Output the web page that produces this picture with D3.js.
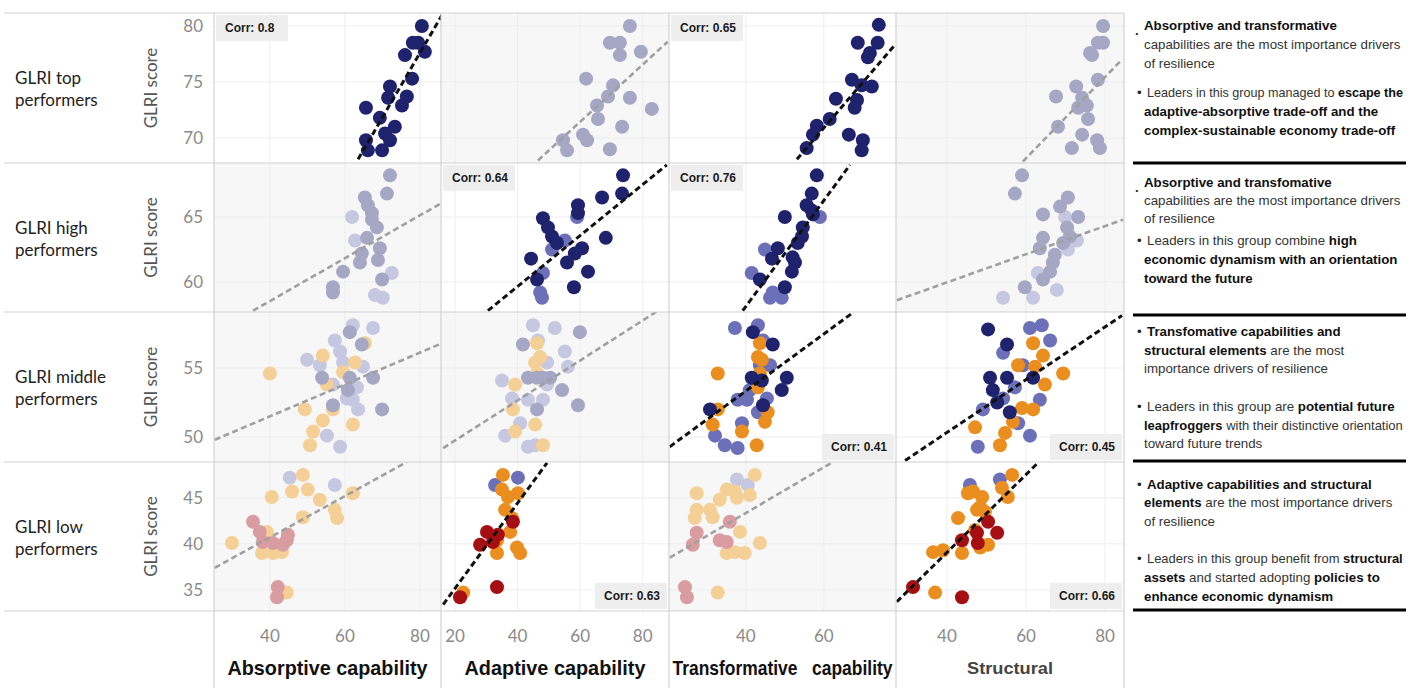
<!DOCTYPE html>
<html>
<head>
<meta charset="utf-8">
<script src="https://cdn.jsdelivr.net/npm/d3@7"></script>
<style>
  body { margin: 0; background: #fff; }
  svg { display: block; }
</style>
</head>
<body>
<svg id="chart"></svg>
<script>
// rows of the matrix and their columns
var rowNames = [["GLRI top", "performers"], ["GLRI high", "performers"], ["GLRI middle", "performers"], ["GLRI low", "performers"]];
var colNames = ["Absorptive capability", "Adaptive capability", "Transformative   capability", "Structural"];

var xDomains = [[25.1, 85.6], [15.5, 88.4], [20.3, 78.5], [27.1, 84.8]];
var yDomains = [[67.77, 81.16], [57.7, 69.15], [48.19, 59.06], [32.7, 48.9]];
var xTicks = [[40, 60, 80], [20, 40, 60, 80], [40, 60], [40, 60, 80]];
var yTicks = [[70, 75, 80], [60, 65], [50, 55], [35, 40, 45]];

// points: [x, GLRI score, group]  n = navy, m = periwinkle, o = orange, r = red
var topAbs = [[80.5,80.0,"n"],[78.1,78.5,"n"],[79.5,78.5,"n"],[81.3,77.7,"n"],[76,77.4,"n"],[77.9,75.3,"n"],[72,74.6,"n"],[71.5,73.6,"n"],[76.5,73.7,"n"],[75.2,72.9,"n"],[65.6,72.7,"n"],[69.3,71.8,"n"],[73.3,71.0,"n"],[70.7,70.4,"n"],[72,69.8,"n"],[65.6,69.8,"n"],[66.1,68.9,"n"],[69.9,68.9,"n"]];
var topAda = [[75.9,80,"n"],[69.5,78.5,"n"],[72.7,78.5,"n"],[72.7,77.4,"n"],[79.4,77.7,"n"],[61.9,75.3,"n"],[70.5,74.7,"n"],[68.9,73.7,"n"],[65.4,72.9,"n"],[75.9,73.6,"n"],[82.9,72.6,"n"],[65.7,71.7,"n"],[73.4,71,"n"],[60.9,70.3,"n"],[62.2,69.8,"n"],[54.5,69.8,"n"],[55.8,68.9,"n"],[69.5,69,"n"]];
var topTra = [[74.1,80.1,"n"],[68.7,78.5,"n"],[73.8,78.5,"n"],[71.8,77.6,"n"],[71.3,77.2,"n"],[67.2,75.2,"n"],[69.7,74.7,"n"],[72.3,74.6,"n"],[63.1,73.5,"n"],[68.5,73.4,"n"],[67.9,72.7,"n"],[61.5,71.7,"n"],[58.2,71.1,"n"],[57.2,70.3,"n"],[66.4,70.3,"n"],[70,69.8,"n"],[69.7,68.9,"n"],[55.6,69.1,"n"]];
var topStr = [[79.5,80,"n"],[78.2,78.5,"n"],[79.5,78.5,"n"],[76.2,77.6,"n"],[76.7,77.4,"n"],[78.2,75.2,"n"],[72.7,74.6,"n"],[67.6,73.7,"n"],[74.2,73.6,"n"],[75.4,72.9,"n"],[73.2,72.7,"n"],[75.7,71.7,"n"],[68.1,71,"n"],[74.2,70.3,"n"],[78,69.8,"n"],[78.7,69.1,"n"],[71.6,69.1,"n"]];

var highAbs = [[72,68.2,"n"],[71.2,66.8,"n"],[65.3,66.5,"n"],[66.1,65.9,"n"],[67.2,65.3,"n"],[67.2,64.8,"n"],[68.5,64.2,"n"],[65.9,63.4,"n"],[69.3,62.6,"n"],[68.8,61.7,"n"],[64.5,62.2,"n"],[64,61.5,"n"],[59.5,60.8,"n"],[69.9,60.2,"n"],[56.8,59.6,"n"],[56.8,59.2,"n"],
  [61.9,65,"m"],[62.7,63.2,"m"],[72.5,60.7,"m"],[68,59,"m"],[70.1,58.8,"m"]];
var highAda = [[73.7,68.2,"n"],[73.4,66.8,"n"],[67,66.5,"n"],[59.3,65.9,"n"],[59.3,65.3,"n"],[48.1,64.9,"n"],[49.7,64.2,"n"],[51,63.5,"n"],[52.6,63,"n"],[68.2,63.4,"n"],[60.6,62.6,"n"],[58.3,62.2,"n"],[44.3,61.8,"n"],[55.8,61.5,"n"],[62.5,60.8,"n"],[46.2,60.2,"n"],[58,59.6,"n"],
  [59,65,"m"],[55.1,63.2,"m"],[51,62.5,"m"],[48.1,60.7,"m"],[47.2,59.2,"m"],[47.8,58.8,"m"]];
var highTra = [[58.2,68.2,"n"],[56.9,66.8,"n"],[55.6,65.9,"n"],[56.9,65.5,"n"],[57.2,65.2,"n"],[50,65,"n"],[54.6,64.2,"n"],[54.4,63.5,"n"],[53.3,63,"n"],[48.2,62.6,"n"],[46.7,61.8,"n"],[52,61.9,"n"],[52.6,61.5,"n"],[51.8,60.8,"n"],[43.6,60.2,"n"],[50,59.6,"n"],
  [59,65,"m"],[44.9,62.5,"m"],[41.5,60.7,"m"],[46.9,59.2,"m"],[46.2,58.8,"m"],[49.2,58.8,"m"]];
var highStr = [[59,68.2,"n"],[57.2,66.8,"n"],[70.6,66.5,"n"],[68.6,65.8,"n"],[64.3,65.2,"n"],[73.2,65,"n"],[70.4,64.2,"n"],[71.1,63.5,"n"],[64.3,63.4,"n"],[63.5,62.6,"n"],[69.4,63,"n"],[67.3,62.1,"n"],[66.8,61.5,"n"],[66.1,60.8,"n"],[64.3,60.2,"n"],[59.7,59.6,"n"],
  [69.9,65,"m"],[72.9,63.2,"m"],[70.6,62.5,"m"],[63,60.7,"m"],[54.2,58.8,"m"],[61.8,58.8,"m"],[67.8,59.4,"m"]];

var midAbs = [[61.3,57.6,"n"],[64.5,56.7,"n"],[53.9,54.3,"n"],[61.3,54.3,"n"],[67.5,54.3,"n"],[60.8,53.4,"n"],[56.8,52.3,"n"],[69.9,52,"n"],
  [62.1,58.1,"m"],[67.5,57.9,"m"],[57.3,57,"m"],[58.7,56.2,"m"],[49.9,55.6,"m"],[53.3,55.2,"m"],[59.5,55.4,"m"],[64.8,55.1,"m"],[56.8,53.8,"m"],[63.2,53.6,"m"],[60.5,52.8,"m"],[62.1,52.7,"m"],[63.5,52,"m"],[55.2,50.1,"m"],[58.7,49.3,"m"],
  [65.3,56.8,"o"],[54.1,55.9,"o"],[62.7,55.4,"o"],[40,54.6,"o"],[59.5,54.7,"o"],[55.2,53.8,"o"],[49.3,52,"o"],[56.8,52,"o"],[54.1,51.2,"o"],[51.5,50.4,"o"],[62.1,50.9,"o"],[50.7,49.4,"o"]];
var midAda = [[59.9,57.6,"n"],[41.7,56.7,"n"],[43.3,54.3,"n"],[46.2,54.3,"n"],[48.1,54.3,"n"],[50.4,54.3,"n"],[54.2,53.4,"n"],[59.3,52.3,"n"],[46.2,52,"n"],
  [44.9,58.1,"m"],[51.9,57.9,"m"],[46.5,57,"m"],[55.1,56.2,"m"],[49.4,55.4,"m"],[56.1,55.1,"m"],[35,54.1,"m"],[49.4,53.8,"m"],[38.2,52.8,"m"],[43.3,52.7,"m"],[48.1,52.7,"m"],[40.8,51,"m"],[36,50.1,"m"],[43.3,49.3,"m"],[45.6,49.4,"m"],
  [46.2,56.8,"o"],[47.2,55.8,"o"],[45.6,55.4,"o"],[39.2,53.8,"o"],[46.2,54.6,"o"],[38.5,52,"o"],[45.6,50.9,"o"],[39.2,50.4,"o"],[48.1,49.4,"o"]];
var midTra = [[41.8,57.6,"n"],[46.9,56.7,"n"],[41.5,54.3,"n"],[44.1,54.1,"n"],[50.5,54.3,"n"],[49.2,53.4,"n"],[30.8,52,"n"],[44.4,52.3,"n"],
  [37.2,57.9,"m"],[43.1,58.1,"m"],[44.4,57,"m"],[43.6,55.2,"m"],[46.2,55.2,"m"],[41,53.4,"m"],[37.9,52.7,"m"],[40.3,52.7,"m"],[45.4,52.8,"m"],[43.1,51.8,"m"],[39,51,"m"],[32.1,50.1,"m"],[34.6,49.4,"m"],[37.9,49.2,"m"],
  [43.6,56.8,"o"],[43.1,55.8,"o"],[44.1,55.6,"o"],[32.8,54.6,"o"],[43.6,54.6,"o"],[43.1,53.6,"o"],[32.8,52,"o"],[45.6,51.8,"o"],[44.9,51.1,"o"],[31.5,50.9,"o"],[39,50.4,"o"],[42.8,49.4,"o"]];
var midStr = [[50.4,57.8,"n"],[55.2,56.7,"n"],[50.9,54.3,"n"],[55.2,54.3,"n"],[51.6,53.4,"n"],[61.8,54.3,"n"],[52.7,52.5,"n"],[55.9,51.8,"n"],
  [61,57.9,"m"],[64,58.1,"m"],[66.1,57,"m"],[54.2,56.1,"m"],[59.2,55.2,"m"],[57.2,53.6,"m"],[54.2,52.8,"m"],[63.5,52.7,"m"],[49.1,52,"m"],[58,51,"m"],[61,50.1,"m"],[47.8,49.3,"m"],
  [61.8,56.8,"o"],[64.3,55.9,"o"],[58,55.2,"o"],[62.3,55.1,"o"],[69.4,54.6,"o"],[64.8,53.8,"o"],[59,52.1,"o"],[61.8,52,"o"],[56.7,51.1,"o"],[47.1,50.7,"o"],[54.7,50.3,"o"],[53.4,49.4,"o"]];

var lowAbs = [[48.8,47.5,"o"],[40.5,45.1,"o"],[45.9,45.7,"o"],[50.1,45.9,"o"],[53.3,44.8,"o"],[62.1,45.5,"o"],[57.3,43.7,"o"],[57.9,42.8,"o"],[48.8,42.9,"o"],[39.2,41.3,"o"],[29.9,40.1,"o"],[37.9,39,"o"],[40.8,39,"o"],[43.2,39.1,"o"],[44.5,34.7,"o"],
  [45.3,47.2,"m"],[57.3,46.4,"m"],
  [35.5,42.4,"r"],[37.3,41.3,"r"],[44.8,41,"r"],[44.5,40.4,"r"],[38.1,40.2,"r"],[40.8,40.1,"r"],[43.5,39.9,"r"],[42.1,35.3,"r"],[41.9,34.2,"r"]];
var lowAda = [[35.3,47.5,"o"],[35,45.9,"o"],[36.9,45.1,"o"],[40.1,45.5,"o"],[36,43.7,"o"],[38.2,42.8,"o"],[37.6,41.3,"o"],[33.4,40.4,"o"],[33.4,39,"o"],[39.8,39.6,"o"],[40.8,39,"o"],[22.6,34.7,"o"],
  [32.8,46.4,"m"],[40.1,47.2,"m"],
  [38.5,42.4,"r"],[30.2,41.3,"r"],[33.7,41,"r"],[32.1,40.2,"r"],[28,39.9,"r"],[33.4,35.3,"r"],[21.6,34.2,"r"]];
var lowTra = [[42.3,47.5,"o"],[41,45.3,"o"],[27.4,45.5,"o"],[35.1,45.9,"o"],[37.2,45.7,"o"],[33.3,44.8,"o"],[37.7,45,"o"],[27.4,43.7,"o"],[30.8,43.7,"o"],[26.9,42.8,"o"],[31.5,42.9,"o"],[38.5,41.3,"o"],[43.6,40.1,"o"],[35.1,39,"o"],[37.2,39.1,"o"],[39.7,39,"o"],[32.8,34.7,"o"],
  [37.7,47,"m"],[40.5,46.4,"m"],
  [35.9,42.4,"r"],[27.4,41.2,"r"],[26.4,39.9,"r"],[33.3,40.4,"r"],[35.1,40.2,"r"],[24.4,35.3,"r"],[24.9,34.2,"r"]];
var lowStr = [[56.5,47.5,"o"],[45.3,45.5,"o"],[46.6,45.7,"o"],[48.9,45.1,"o"],[48.4,44,"o"],[47.6,43.7,"o"],[49.6,43.5,"o"],[53.9,46.1,"o"],[55.4,45.1,"o"],[42.8,42.8,"o"],[47.1,41.5,"o"],[50.4,39.9,"o"],[48.4,39.6,"o"],[36.5,39.1,"o"],[39,39.3,"o"],[43.8,39,"o"],[37,34.7,"o"],
  [45.8,46.4,"m"],[53.4,47,"m"],
  [50.4,42.4,"r"],[52.7,41.2,"r"],[47.6,41.2,"r"],[47.8,40.1,"r"],[43.8,40.4,"r"],[31.4,35.3,"r"],[43.8,34.2,"r"]];

var panels = [[topAbs, topAda, topTra, topStr], [highAbs, highAda, highTra, highStr], [midAbs, midAda, midTra, midStr], [lowAbs, lowAda, lowTra, lowStr]];

// highlighted panels and their trend lines [x0, y0, x1, y1]
var active = [[1, 0, 1, 0], [0, 1, 1, 0], [0, 0, 1, 1], [0, 1, 0, 1]];
var trends = [
  [[63.5,68.1,85.9,81.0], [46.5,68.0,88,78.6], [53.1,68.1,78.2,78.3], [59.2,67.9,84.3,77.0]],
  [[35.5,57.8,85.9,66.1], [30.5,57.8,87.7,69], [39.2,57.8,66.7,69], [27.3,58.6,84.6,64.8]],
  [[25.3,49.8,85.9,56.8], [16.2,49.2,84.5,59.1], [20.5,49.3,67.4,59], [29.4,48.3,84.3,58.8]],
  [[25.3,37.4,76.5,48.9], [16.2,33.4,49.4,48.8], [20.5,38.5,62.3,48.9], [27.3,33.7,63,48.8]]
];
var corrLabels = [[0, 0, "Corr: 0.8", "tl"], [0, 2, "Corr: 0.65", "tl"], [1, 1, "Corr: 0.64", "tl"], [1, 2, "Corr: 0.76", "tl"],
  [2, 2, "Corr: 0.41", "br"], [2, 3, "Corr: 0.45", "br"], [3, 1, "Corr: 0.63", "br"], [3, 3, "Corr: 0.66", "br"]];

// notes on the right, one block per row: [bullet, [[text, bold], ...]]
var notes = [
  [[".", [["Absorptive and transformative", 1]]], ["", [["capabilities are the most importance drivers", 0]]], ["", [["of resilience", 0]]],
   ["•", [["Leaders in this group managed to ", 0], ["escape the", 1]]], ["", [["adaptive-absorptive trade-off and the", 1]]], ["", [["complex-sustainable economy trade-off", 1]]]],
  [[".", [["Absorptive and transfomative", 1]]], ["", [["capabilities are the most importance drivers", 0]]], ["", [["of resilience", 0]]],
   ["•", [["Leaders in this group combine ", 0], ["high", 1]]], ["", [["economic dynamism with an orientation", 1]]], ["", [["toward the future", 1]]]],
  [["•", [["Transfomative capabilities and", 1]]], ["", [["structural elements", 1], [" are the most", 0]]], ["", [["importance drivers of resilience", 0]]],
   ["•", [["Leaders in this group are ", 0], ["potential future", 1]]], ["", [["leapfroggers", 1], [" with their distinctive orientation", 0]]], ["", [["toward future trends", 0]]]],
  [["•", [["Adaptive capabilities and structural", 1]]], ["", [["elements", 1], [" are the most importance drivers", 0]]], ["", [["of resilience", 0]]],
   ["•", [["Leaders in this group benefit from ", 0], ["structural", 1]]], ["", [["assets", 1], [" and started adopting ", 0], ["policies to", 1]]], ["", [["enhance economic dynamism", 1]]]]
];
var noteBaselines = [[30, 49, 68, 97, 116, 135], [187, 205, 223, 245, 264, 283], [336, 355, 373, 411, 430, 448], [489, 507, 526, 563, 582, 601]];

var W = 1415, H = 688;
var colX = [214, 441, 669, 896, 1124];
var rowY = [13, 163, 312, 462, 611];
var activeColor = { n: "#1f226c", m: "#6c70b8", o: "#ea8f1f", r: "#a60f12" };
var fadedColor = { n: "#a6a7c5", m: "#c6c7e1", o: "#f4cf96", r: "#d99ca1" };
var drawOrder = { m: 0, o: 1, r: 2, n: 3 };
var tickFont = "Lato, 'Open Sans', sans-serif";
var narrow = "'Liberation Sans Narrow', 'Arial Narrow', 'Liberation Sans', sans-serif";

var svg = d3.select("#chart").attr("width", W).attr("height", H);
svg.append("rect").attr("width", W).attr("height", H).attr("fill", "#fff");

var xScales = xDomains.map(function(d, i) { return d3.scaleLinear().domain(d).range([colX[i], colX[i + 1]]); });
var yScales = yDomains.map(function(d, i) { return d3.scaleLinear().domain(d).range([rowY[i + 1], rowY[i]]); });

var defs = svg.append("defs");

panels.forEach(function(row, r) {
  row.forEach(function(pts, c) {
    var x = xScales[c], y = yScales[r];
    var on = active[r][c] === 1;
    var id = "clip" + r + "_" + c;
    defs.append("clipPath").attr("id", id).append("rect")
      .attr("x", colX[c]).attr("y", rowY[r]).attr("width", colX[c + 1] - colX[c]).attr("height", rowY[r + 1] - rowY[r]);
    var g = svg.append("g").attr("clip-path", "url(#" + id + ")");

    g.append("rect")
      .attr("x", colX[c]).attr("y", rowY[r]).attr("width", colX[c + 1] - colX[c]).attr("height", rowY[r + 1] - rowY[r])
      .attr("fill", on ? "#ffffff" : "#f7f7f7");

    // faint gridlines
    g.selectAll(".vg").data(xTicks[c]).enter().append("line")
      .attr("x1", function(d) { return x(d); }).attr("x2", function(d) { return x(d); })
      .attr("y1", rowY[r]).attr("y2", rowY[r + 1])
      .attr("stroke", "#ededed").attr("stroke-width", 1);
    g.selectAll(".hg").data(yTicks[r]).enter().append("line")
      .attr("y1", function(d) { return y(d); }).attr("y2", function(d) { return y(d); })
      .attr("x1", colX[c]).attr("x2", colX[c + 1])
      .attr("stroke", "#ededed").attr("stroke-width", 1);

    var sorted = pts.slice().sort(function(a, b) { return drawOrder[a[2]] - drawOrder[b[2]]; });
    g.selectAll("circle").data(sorted).enter().append("circle")
      .attr("cx", function(d) { return x(d[0]); })
      .attr("cy", function(d) { return y(d[1]); })
      .attr("r", 7)
      .attr("fill", function(d) { return on ? activeColor[d[2]] : fadedColor[d[2]]; });

    var t = trends[r][c];
    g.append("path")
      .attr("d", d3.line().x(function(d) { return x(d[0]); }).y(function(d) { return y(d[1]); })([[t[0], t[1]], [t[2], t[3]]]))
      .attr("fill", "none")
      .attr("stroke", on ? "#111" : "#a0a0a0")
      .attr("stroke-width", on ? 3 : 2.6)
      .attr("stroke-dasharray", "6,3.5");
  });
});

// frame lines
var frame = svg.append("g").attr("stroke", "#d2d2d2").attr("stroke-width", 1.2);
rowY.forEach(function(yy) {
  frame.append("line").attr("x1", 4).attr("x2", colX[4]).attr("y1", yy).attr("y2", yy);
});
colX.forEach(function(xx) {
  frame.append("line").attr("x1", xx).attr("x2", xx).attr("y1", rowY[0]).attr("y2", H);
});

// correlation boxes
corrLabels.forEach(function(cl) {
  var r = cl[0], c = cl[1];
  var bx = cl[3] === "tl" ? colX[c] + 2 : colX[c + 1] - 74;
  var by = cl[3] === "tl" ? rowY[r] + 2 : rowY[r + 1] - 28;
  svg.append("rect").attr("x", bx).attr("y", by).attr("width", 72).attr("height", 26).attr("fill", "#eeeeee");
  svg.append("text").attr("x", bx + 9).attr("y", by + 17)
    .attr("font-family", narrow).attr("font-weight", "bold").attr("font-size", 12).attr("fill", "#1a1a1a")
    .text(cl[2]);
});

// y axes: tick labels, titles, row names
yScales.forEach(function(y, r) {
  svg.selectAll(".yt" + r).data(yTicks[r]).enter().append("text")
    .attr("x", 203).attr("y", function(d) { return y(d); }).attr("dy", "0.35em")
    .attr("text-anchor", "end").attr("font-family", tickFont).attr("font-size", 17).attr("fill", "#8a8a8a")
    .text(function(d) { return d; });
  var cy = (rowY[r] + rowY[r + 1]) / 2;
  svg.append("text")
    .attr("transform", "translate(157," + cy + ") rotate(-90)")
    .attr("text-anchor", "middle").attr("font-family", tickFont).attr("font-size", 17).attr("fill", "#555")
    .text("GLRI score");
  svg.append("text").attr("x", 15).attr("y", cy - 4)
    .attr("font-family", tickFont).attr("font-size", 17).attr("fill", "#222").text(rowNames[r][0]);
  svg.append("text").attr("x", 15).attr("y", cy + 18)
    .attr("font-family", tickFont).attr("font-size", 17).attr("fill", "#222").text(rowNames[r][1]);
});

// x axes: tick labels and titles
var titleLen = [200, 181, 220, 86];
xScales.forEach(function(x, c) {
  svg.selectAll(".xt" + c).data(xTicks[c]).enter().append("text")
    .attr("x", function(d) { return x(d); }).attr("y", 642)
    .attr("text-anchor", "middle").attr("font-family", tickFont).attr("font-size", 17).attr("fill", "#8a8a8a")
    .text(function(d) { return d; });
  var last = c === 3;
  svg.append("text")
    .attr("x", (colX[c] + colX[c + 1]) / 2).attr("y", last ? 674 : 675)
    .attr("text-anchor", "middle")
    .attr("font-family", narrow).attr("font-weight", "bold")
    .attr("font-size", last ? 17 : 21).attr("fill", last ? "#444" : "#111")
    .attr("textLength", titleLen[c]).attr("lengthAdjust", "spacingAndGlyphs")
    .attr("xml:space", "preserve")
    .text(colNames[c]);
});

// notes panel
var noteSize = 13.3;
var notesG = svg.append("g").attr("font-family", "'Liberation Sans', Arial, sans-serif").attr("font-size", noteSize);
var rightEdge = 1403;
notes.forEach(function(block, b) {
  block.forEach(function(line, i) {
    var yy = noteBaselines[b][i];
    if (line[0]) {
      notesG.append("text").attr("x", line[0] === "." ? 1135 : 1137).attr("y", line[0] === "." ? yy + 5 : yy)
        .attr("fill", "#222").attr("font-weight", line[0] === "." ? "bold" : "normal").text(line[0]);
    }
    var x0 = line[0] === "•" ? 1147 : 1144;
    var tx = notesG.append("text").attr("x", x0).attr("y", yy).attr("xml:space", "preserve");
    line[1].forEach(function(seg) {
      tx.append("tspan").attr("font-weight", seg[1] ? "bold" : "normal").attr("fill", seg[1] ? "#111" : "#333").text(seg[0]);
    });
    // shrink lines that would run past the panel edge
    var len = tx.node().getComputedTextLength();
    if (x0 + len > rightEdge) {
      tx.attr("font-size", noteSize * (rightEdge - x0) / len);
    }
  });
});
[163, 315, 461, 610].forEach(function(yy) {
  svg.append("line").attr("x1", 1133).attr("x2", 1406).attr("y1", yy).attr("y2", yy)
    .attr("stroke", "#000").attr("stroke-width", 3);
});
</script>
</body>
</html>
